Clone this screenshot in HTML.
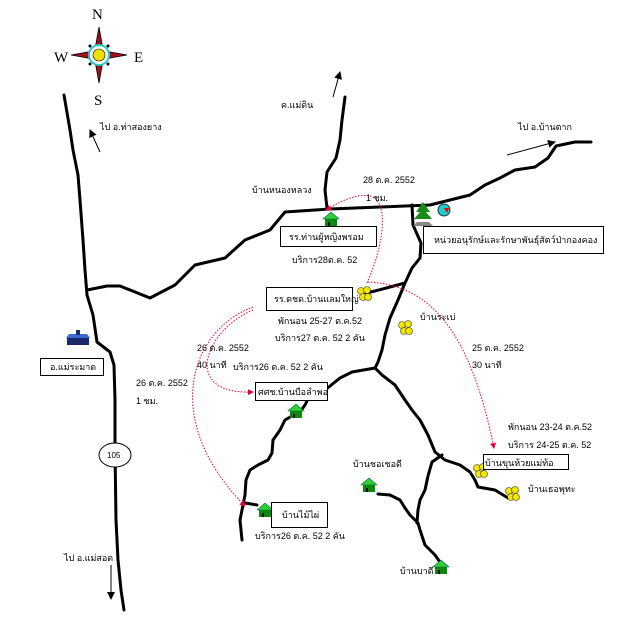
<!DOCTYPE html>
<html><head><meta charset="utf-8"><style>
html,body{margin:0;padding:0;background:#fff;}
svg{display:block;font-family:"Liberation Sans","Noto Sans CJK SC",sans-serif;}
text{font-size:9px;fill:#000;}
</style></head><body>
<svg width="639" height="618" viewBox="0 0 639 618" xmlns="http://www.w3.org/2000/svg">
<defs>
<marker id="ar" markerWidth="8" markerHeight="8" refX="7" refY="4" orient="auto" markerUnits="userSpaceOnUse"><path d="M0,0 L8,4 L0,8 z" fill="#000"/></marker>
<marker id="rr" markerWidth="6" markerHeight="6" refX="5" refY="3" orient="auto" markerUnits="userSpaceOnUse"><path d="M0,0 L6,3 L0,6 z" fill="#e8003a"/></marker>
<g id="house"><rect x="-6" y="-3" width="12" height="8" fill="#0a8a0a"/><path d="M-8,-2 L0,-9 L8,-2 z" fill="#2fd02f" stroke="#065" stroke-width=".6"/><rect x="-3" y="1" width="2" height="4" fill="#000"/></g>
<g id="yel"><circle cx="-3" cy="-3" r="3.5" fill="#f5e600" stroke="#333" stroke-width=".6"/><circle cx="3" cy="-4" r="3.5" fill="#f5e600" stroke="#333" stroke-width=".6"/><circle cx="-1" cy="3" r="3.5" fill="#f5e600" stroke="#333" stroke-width=".6"/><circle cx="4" cy="3" r="3.5" fill="#f5e600" stroke="#333" stroke-width=".6"/></g>
</defs>

<!-- compass -->
<g transform="translate(99,55)">
<path d="M0,-28 L4,-6 L0,0 L-4,-6 z M0,28 L4,6 L0,0 L-4,6 z M-28,0 L-6,-4 L0,0 L-6,4 z M28,0 L6,-4 L0,0 L6,4 z" fill="#a01020" stroke="#000" stroke-width=".8"/>
<circle r="10" fill="#fff" stroke="#2cc" stroke-width="2"/>
<circle r="6" fill="#f0e000" stroke="#000" stroke-width=".6"/>
<circle cx="-9" cy="-9" r="1.5"/><circle cx="9" cy="-9" r="1.5"/><circle cx="-9" cy="9" r="1.5"/><circle cx="9" cy="9" r="1.5"/>
</g>
<text x="92" y="19" style="font-family:'Liberation Serif',serif;font-size:15px">N</text>
<text x="54" y="62" style="font-family:'Liberation Serif',serif;font-size:15px">W</text>
<text x="134" y="62" style="font-family:'Liberation Serif',serif;font-size:15px">E</text>
<text x="94" y="105" style="font-family:'Liberation Serif',serif;font-size:15px">S</text>

<g fill="none" stroke="#000" stroke-width="3" stroke-linejoin="round" stroke-linecap="round">
<path d="M64,95 L70,130 L73,150 L78,175 L80,200 L83,240 L85,270 L87,295 L93,315 L97,342 L110,352 L114,365 L115,400 L115,450 L116,520 L118,560 L121,590 L124,610"/>
<path d="M87,290 L107,286 L120,286 L150,298 L175,285 L195,265 L225,258 L245,240 L270,230 L285,212 L330,209 L380,207 L430,205 L470,195 L485,185 L500,178 L515,170 L535,167 L548,158 L556,146 L575,142 L591,142"/>
<path d="M327,208 L325,190 L327,172 L336,158 L340,140 L342,120 L345,97"/>
<path d="M412,205 L413,225 L421,243 L420,258 L412,268 L405,283 L390,287 L375,291 L366,293"/>
<path d="M405,283 L398,300 L390,318 L385,335 L382,350 L378,362 L375,368"/>
<path d="M375,368 L352,372 L340,378 L325,390 L310,395 L305,405 L300,412 L292,416 L285,420 L280,430 L273,440 L272,453 L268,460 L258,465 L250,470 L246,480 L245,495 L243,505 L240,520 L242,540 M245,503 L257,505"/>
<path d="M375,368 L382,375 L395,385 L405,400 L412,410 L420,420 L428,435 L435,452 L445,460 L460,465 L470,472 L475,480 L478,487 L495,490 L508,498"/>
<path d="M442,455 L432,462 L428,476 L425,490 L420,500 L418,510 L417,523"/>
<path d="M378,494 L390,495 L400,500 L405,508 L410,515 L418,523 L420,530 L425,545 L435,555 L442,565"/>
</g>

<g stroke="#000" stroke-width="1" fill="none">
<line x1="333" y1="97" x2="340" y2="72" marker-end="url(#ar)"/>
<line x1="100" y1="152" x2="90" y2="130" marker-end="url(#ar)"/>
<line x1="507" y1="155" x2="555" y2="142" marker-end="url(#ar)"/>
<line x1="111" y1="565" x2="111" y2="599" marker-end="url(#ar)"/>
</g>

<g fill="none" stroke="#e8003a" stroke-width="1" stroke-dasharray="1.5,1.5">
<path d="M367,283 C386,240 388,200 370,196 C355,193 338,203 326,210" marker-end="url(#rr)"/>
<path d="M368,282 C430,285 470,330 494,448" marker-end="url(#rr)"/>
<path d="M253,307 C190,330 160,420 245,506" marker-end="url(#rr)"/>
<path d="M253,310 C205,330 180,395 253,392" marker-end="url(#rr)"/>
</g>

<ellipse cx="115" cy="455" rx="16" ry="12" fill="#fff" stroke="#000" stroke-width="1"/>
<text x="107" y="458" style="font-size:8px">105</text>

<use href="#house" x="331" y="221"/>
<use href="#house" x="296" y="413"/>
<use href="#house" x="265" y="512"/>
<use href="#house" x="369" y="487"/>
<use href="#house" x="441" y="569"/>
<use href="#yel" x="364" y="294"/>
<use href="#yel" x="405" y="328"/>
<use href="#yel" x="480" y="471"/>
<use href="#yel" x="512" y="494"/>
<g transform="translate(423,212)"><path d="M0,-10 L7,0 L3,0 L9,7 L-9,7 L-3,0 L-7,0 z" fill="#1a8a1a"/><path d="M-6,10 L6,10 L10,14 L-10,14 z" fill="#888"/></g>
<g transform="translate(444,210)"><circle r="6" fill="#2cc" stroke="#000" stroke-width=".8"/><path d="M0,-2 L5,-2 L3,3 z" fill="#e00"/></g>
<g transform="translate(78,342)"><rect x="-11" y="-4" width="22" height="7" fill="#1a2a6a"/><path d="M-12,-4 L12,-4 L9,-8 L-9,-8 z" fill="#3a6ad0"/><rect x="-2" y="-12" width="4" height="5" fill="#1a2a6a"/></g>

<g fill="#fff" stroke="#000" stroke-width="1">
<rect x="280.5" y="226.5" width="96" height="20"/>
<rect x="266.5" y="287.5" width="86" height="23"/>
<rect x="423.5" y="226.5" width="180" height="27"/>
<rect x="255.5" y="382.5" width="72" height="18"/>
<rect x="483.5" y="454.5" width="85" height="15"/>
<rect x="271.5" y="502.5" width="56" height="25"/>
<rect x="40.5" y="358.5" width="63" height="17"/>
</g>

<text x="289" y="240">รร.ท่านผู้หญิงพรอม</text>
<text x="274" y="302">รร.ตชด.บ้านแลมใหญ่</text>
<text x="434" y="243">หน่วยอนุรักษ์และรักษาพันธุ์สัตว์ป่ากองคอง</text>
<text x="258" y="395">ศศช.บ้านบือลำพอ</text>
<text x="485" y="466">บ้านขุนห้วยแม่ท้อ</text>
<text x="282" y="518">บ้านไม้ไผ่</text>
<text x="50" y="370">อ.แม่ระมาด</text>

<text x="281" y="108">ค.แม่ดิน</text>
<text x="100" y="130">ไป อ.ท่าสองยาง</text>
<text x="518" y="130">ไป อ.บ้านตาก</text>
<text x="252" y="193">บ้านหนองหลวง</text>
<text x="363" y="183">28 ต.ค. 2552</text>
<text x="366" y="201">1 ชม.</text>
<text x="292" y="263">บริการ28ต.ค. 52</text>
<text x="278" y="324">พักนอน 25-27 ต.ค.52</text>
<text x="275" y="341">บริการ27 ต.ค. 52 2 คัน</text>
<text x="420" y="320">บ้านระเบ่</text>
<text x="472" y="351">25 ต.ค. 2552</text>
<text x="472" y="368">30 นาที</text>
<text x="197" y="351">26 ต.ค. 2552</text>
<text x="197" y="368">40 นาที</text>
<text x="233" y="370">บริการ26 ต.ค. 52 2 คัน</text>
<text x="136" y="386">26 ต.ค. 2552</text>
<text x="136" y="404">1 ชม.</text>
<text x="508" y="430">พักนอน 23-24 ต.ค.52</text>
<text x="508" y="448">บริการ 24-25 ต.ค. 52</text>
<text x="353" y="467">บ้านชอเชอดี</text>
<text x="528" y="492">บ้านเธอพุทะ</text>
<text x="255" y="539">บริการ26 ต.ค. 52 2 คัน</text>
<text x="400" y="574">บ้านบาดี</text>
<text x="64" y="561">ไป อ.แม่สอด</text>
</svg>
</body></html>
